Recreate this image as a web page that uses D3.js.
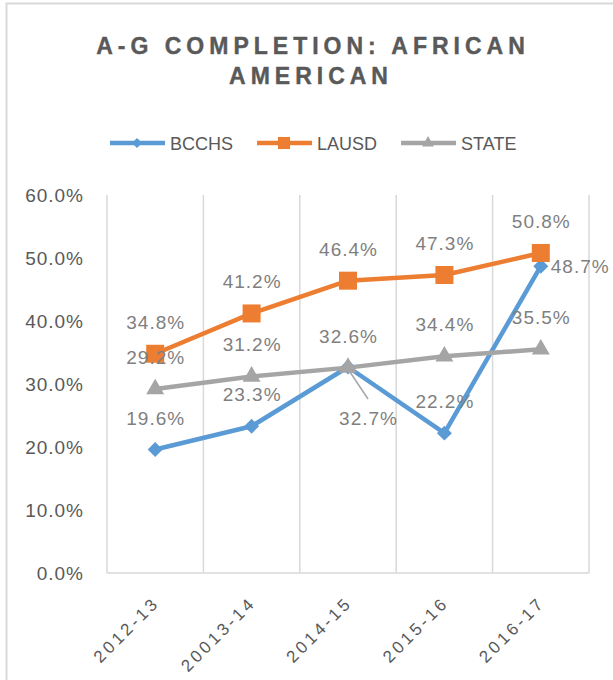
<!DOCTYPE html>
<html>
<head>
<meta charset="utf-8">
<script src="https://cdn.jsdelivr.net/npm/d3@7"></script>
<style>
  body { margin: 0; background: #fff; }
  text { font-family: "Liberation Sans", Arial, sans-serif; }
</style>
</head>
<body>
<script>
// data
const years = ['2012-13', '20013-14', '2014-15', '2015-16', '2016-17'];
const bcchs = [0.196, 0.233, 0.327, 0.222, 0.487];
const lausd = [0.348, 0.412, 0.464, 0.473, 0.508];
const state = [0.292, 0.312, 0.326, 0.344, 0.355];
const yTicks = [0, 0.1, 0.2, 0.3, 0.4, 0.5, 0.6];

const width = 613;
const height = 680;
const plot = {left: 107, right: 589, top: 195, bottom: 573};

const series = [
  {name: 'BCCHS', values: bcchs, color: '#5b9bd5', symbol: d3.symbolSquare, size: 112, rotate: 45},
  {name: 'LAUSD', values: lausd, color: '#ed7d31', symbol: d3.symbolSquare, size: 324, rotate: 0},
  {name: 'STATE', values: state, color: '#a5a5a5', symbol: d3.symbolTriangle, size: 140, rotate: 0}
];
// where each data label sits, default is above the point
const labelPlace = {BCCHS: ['above', 'above', 'leader', 'above', 'right']};

const svg = d3.select('body').append('svg').attr('width', width).attr('height', height);
svg.append('rect').attr('width', width).attr('height', height).attr('fill', '#fff');

// chart frame (cropped at right and bottom)
svg.append('rect').attr('x', 6.5).attr('y', 3.5).attr('width', 700).attr('height', 700)
  .attr('fill', 'none').attr('stroke', '#d9d9d9').attr('stroke-width', 2);

// title
const title = svg.append('text').attr('text-anchor', 'middle')
  .attr('font-size', 23).attr('font-weight', 'bold').attr('fill', '#595959')
  .attr('letter-spacing', 5).attr('stroke', '#595959').attr('stroke-width', 0.4);
title.append('tspan').attr('x', 313).attr('y', 54).text('A-G COMPLETION: AFRICAN');
title.append('tspan').attr('x', 311).attr('y', 84).text('AMERICAN');

const x = d3.scaleBand().domain(years).range([plot.left, plot.right]).padding(0);
const y = d3.scaleLinear().domain([0, 0.6]).range([plot.bottom, plot.top]);
const cx = d => x(d) + x.bandwidth() / 2;

// vertical gridlines at the category boundaries
const bounds = years.map(d => x(d)).concat([plot.right]);
svg.append('g').selectAll('line').data(bounds).join('line')
  .attr('x1', d => d).attr('x2', d => d)
  .attr('y1', y(0.6)).attr('y2', y(0))
  .attr('stroke', '#d9d9d9').attr('stroke-width', 1.5);
svg.append('line').attr('x1', plot.left).attr('x2', plot.right)
  .attr('y1', y(0)).attr('y2', y(0))
  .attr('stroke', '#d9d9d9').attr('stroke-width', 1.5);

// y axis
const yAxis = svg.append('g').attr('transform', `translate(${plot.left},0)`)
  .call(d3.axisLeft(y).tickValues(yTicks).tickFormat(d3.format('.1%')).tickSize(0).tickPadding(24));
yAxis.select('.domain').remove();
yAxis.selectAll('text').attr('font-size', 19).attr('fill', '#595959')
  .attr('font-family', '"Liberation Sans", Arial, sans-serif').attr('letter-spacing', 1).attr('dx', 1);

// x axis, rotated labels
const xAxis = svg.append('g').attr('transform', `translate(0,${plot.bottom})`)
  .call(d3.axisBottom(x).tickSize(0));
xAxis.select('.domain').remove();
xAxis.selectAll('text')
  .attr('font-size', 17).attr('fill', '#595959')
  .attr('font-family', '"Liberation Sans", Arial, sans-serif')
  .attr('letter-spacing', 3.2)
  .attr('text-anchor', 'end')
  .attr('x', 0).attr('y', 0).attr('dy', 0).attr('dx', 3.2)
  .attr('transform', 'translate(3,33) rotate(-45)');

// lines and markers
const line = d3.line().x((v, i) => cx(years[i])).y(v => y(v));
series.forEach(s => {
  svg.append('path').datum(s.values)
    .attr('d', line).attr('fill', 'none')
    .attr('stroke', s.color).attr('stroke-width', 4.5).attr('stroke-linejoin', 'round');
  svg.append('g').selectAll('path').data(s.values).join('path')
    .attr('d', d3.symbol(s.symbol, s.size))
    .attr('transform', (v, i) => `translate(${cx(years[i])},${y(v)}) rotate(${s.rotate})`)
    .attr('fill', s.color);
});

// data labels
const fmt = d3.format('.1%');
series.forEach(s => {
  const place = labelPlace[s.name] || s.values.map(() => 'above');
  s.values.forEach((v, i) => {
    const px = cx(years[i]), py = y(v);
    const t = svg.append('text').text(fmt(v))
      .attr('font-size', 19).attr('fill', '#7f7f7f').attr('letter-spacing', 1);
    if (place[i] === 'right') {
      t.attr('x', px + 10).attr('y', py + 7).attr('text-anchor', 'start');
    } else if (place[i] === 'leader') {
      svg.append('line').attr('x1', px + 2).attr('y1', py + 5).attr('x2', px + 20).attr('y2', py + 32)
        .attr('stroke', '#a6a6a6').attr('stroke-width', 1.5);
      t.attr('x', px + 20).attr('y', py + 58).attr('text-anchor', 'middle').attr('dx', 0.5);
    } else {
      t.attr('x', px).attr('y', py - 25).attr('text-anchor', 'middle').attr('dx', 0.5);
    }
  });
});

// legend
const legend = svg.append('g').attr('transform', 'translate(0,143)');
let lx = 110;
series.forEach(s => {
  legend.append('line').attr('x1', lx).attr('x2', lx + 55).attr('y1', 0).attr('y2', 0)
    .attr('stroke', s.color).attr('stroke-width', 4.5);
  legend.append('path').attr('d', d3.symbol(s.symbol, s.size * 0.45))
    .attr('transform', `translate(${lx + 27},0) rotate(${s.rotate})`).attr('fill', s.color);
  const t = legend.append('text').attr('x', lx + 60).attr('y', 7)
    .attr('font-size', 18).attr('fill', '#595959').text(s.name);
  lx += 60 + t.node().getComputedTextLength() + 24;
});
</script>
</body>
</html>
